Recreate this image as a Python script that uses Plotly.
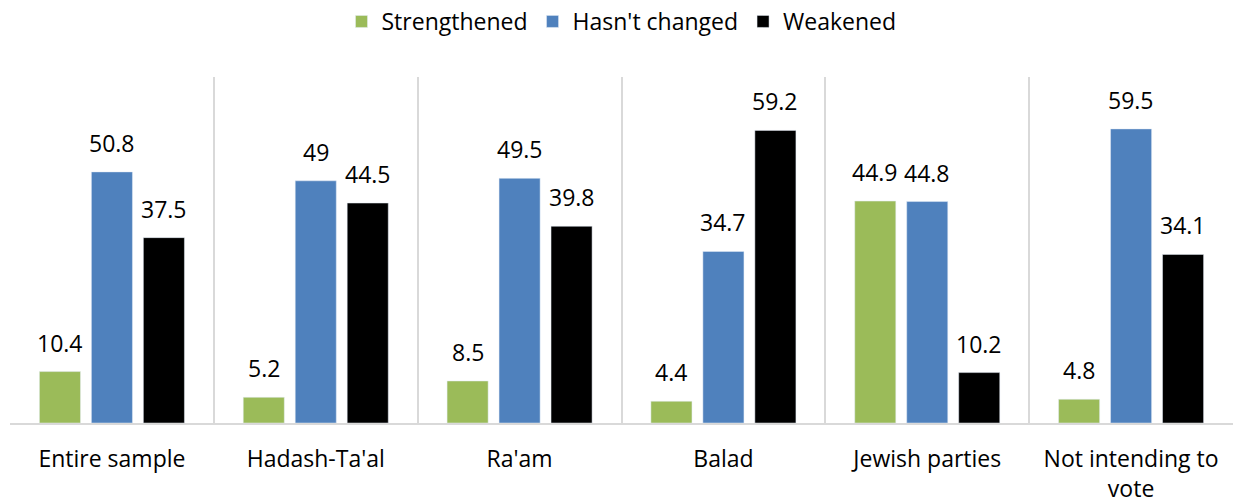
import plotly.graph_objects as go

categories = ["Entire sample", "Hadash-Ta'al", "Ra'am", "Balad", "Jewish parties", "Not intending to<br>vote"]
strengthened = [10.4, 5.2, 8.5, 4.4, 44.9, 4.8]
unchanged = [50.8, 49, 49.5, 34.7, 44.8, 59.5]
weakened = [37.5, 44.5, 39.8, 59.2, 10.2, 34.1]

series = [
    ("Strengthened", strengthened, "#9BBB59"),
    ("Hasn't changed", unchanged, "#4F81BD"),
    ("Weakened", weakened, "#000000"),
]

font = "Open Sans"
FS = 23
W, H = 1234, 502
ML, MR, MT, MB = 10, 1, 77, 79
BARGAP, GROUPGAP = 0.235, 0.21

fig = go.Figure()
for name, vals, color in series:
    fig.add_trace(go.Bar(name=name, x=categories, y=vals, marker_color=color))

# value labels above bars
cat_px = (W - ML - MR) / len(categories)
slot_px = cat_px * (1 - BARGAP) / len(series)
for si, (name, vals, color) in enumerate(series):
    offset = (si - (len(series) - 1) / 2) * slot_px
    for c, v in zip(categories, vals):
        fig.add_annotation(x=c, y=v, xref="x", yref="y", text=f"{v:g}",
                           showarrow=False, xshift=offset, yshift=11,
                           yanchor="bottom", font=dict(size=FS, family=font, color="#000000"))

fig.update_layout(
    width=W, height=H,
    margin=dict(l=ML, r=MR, t=MT, b=MB, autoexpand=False),
    paper_bgcolor="white", plot_bgcolor="white",
    barmode="group", bargap=BARGAP, bargroupgap=GROUPGAP,
    font=dict(family=font, size=FS, color="#000000"),
    legend=dict(orientation="h", x=0.5, xanchor="center", y=1.0, yanchor="top",
                yref="container", font=dict(size=FS, family=font), traceorder="normal"),
    xaxis=dict(tickson="boundaries", showgrid=True, gridcolor="#D9D9D9", gridwidth=2,
               showline=True, linecolor="#D9D9D9", linewidth=2, ticks="",
               ticklabelstandoff=14,
               tickfont=dict(size=FS, family=font), automargin=False),
    yaxis=dict(range=[0, 70], visible=False, showgrid=False, automargin=False),
)
fig.write_html("out.html", config={"displayModeBar": False},
               post_script="document.body.style.margin='0';document.body.style.overflow='hidden';")
